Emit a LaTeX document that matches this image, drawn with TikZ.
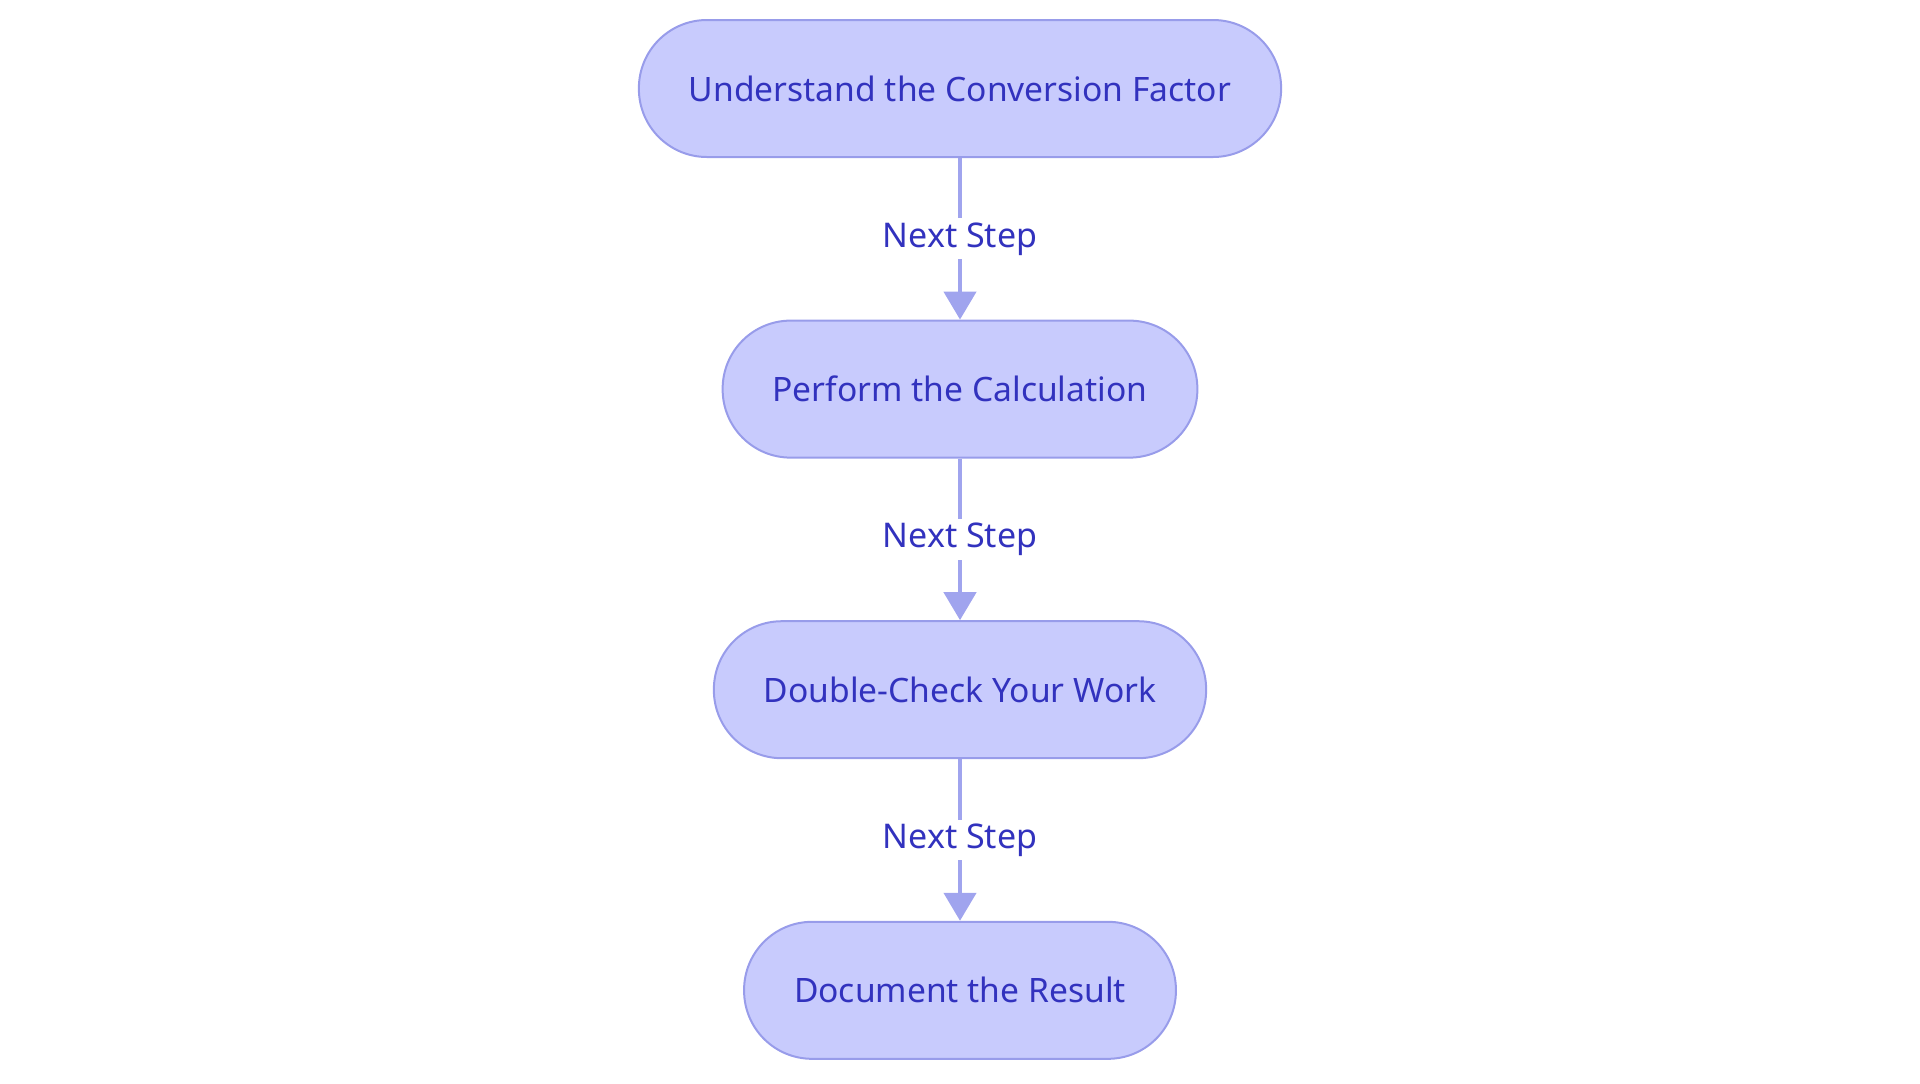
\documentclass[tikz,border=0pt]{standalone}
\usepackage{fontspec}
\setmainfont{Noto Sans}
\usetikzlibrary{positioning,arrows.meta}

\definecolor{stepfill}{RGB}{200,203,253}
\definecolor{stepline}{RGB}{152,156,234}
\definecolor{steptext}{RGB}{50,50,190}
\definecolor{linkline}{RGB}{160,164,238}

\begin{document}
\begin{tikzpicture}[
  node distance=80.8pt,
  stepbox/.style={draw=stepline, line width=1pt, fill=stepfill,
    rounded corners=34pt, minimum height=68.5pt, inner xsep=25pt,
    text=steptext, font=\fontsize{16.8}{20}\selectfont},
  link/.style={draw=linkline, line width=2.2pt,
    -{Triangle[length=14pt,width=16pt]}},
  linklabel/.style={fill=white, text=steptext, inner sep=2pt,
    font=\fontsize{17}{20}\selectfont}]
\useasboundingbox (0,0) rectangle (960pt,-541.5pt);

\node[stepbox] (understand) at (480pt,-44.25pt) {Understand the Conversion Factor};
\node[stepbox, below=of understand] (perform) {Perform the Calculation};
\node[stepbox, below=of perform] (check) {Double-Check Your Work};
\node[stepbox, below=of check] (document) {Document the Result};

\foreach \a/\b in {understand/perform, perform/check, check/document} {
\draw[link] (\a) -- node[linklabel] {Next Step} (\b);
}

\end{tikzpicture}
\end{document}
